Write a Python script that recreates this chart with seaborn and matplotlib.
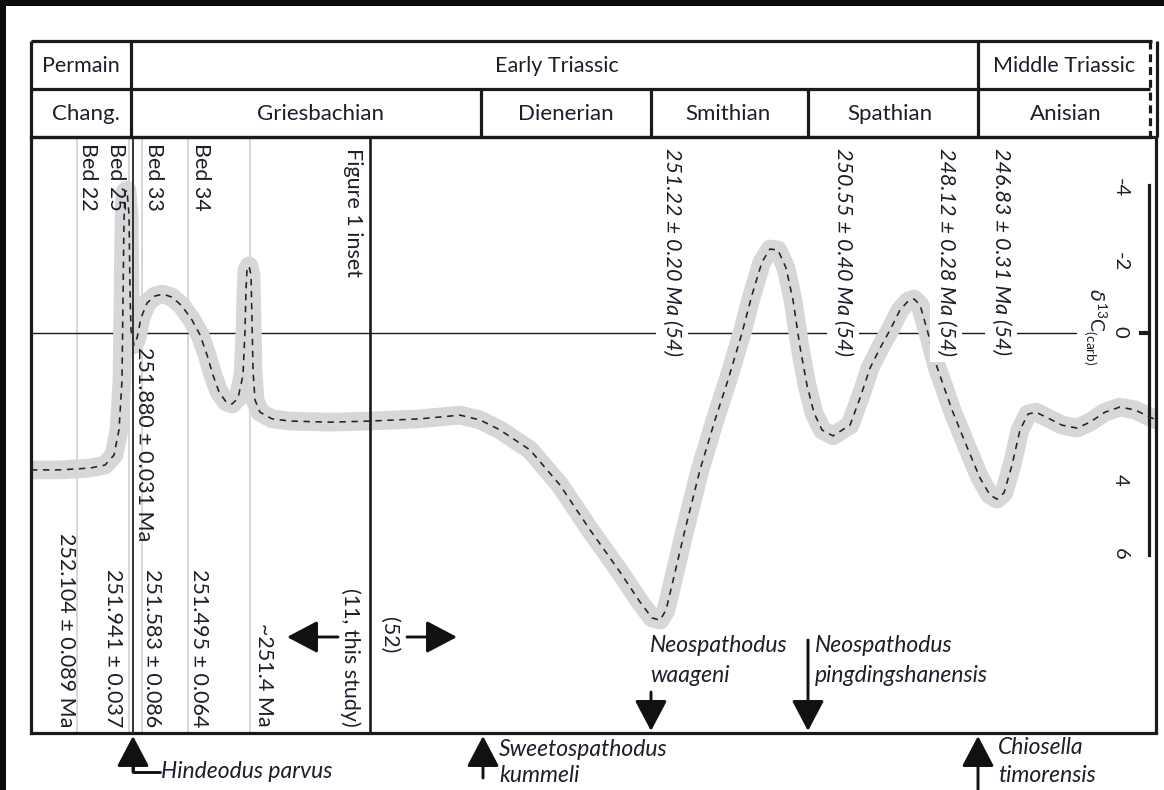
import numpy as np
import pandas as pd
import matplotlib
matplotlib.use("Agg")
import matplotlib.pyplot as plt
import seaborn as sns
from matplotlib import transforms
from matplotlib.patches import Rectangle, FancyArrowPatch

sns.set_theme(style="white")
plt.rcParams["font.family"] = ["Lato", "DejaVu Sans"]
plt.rcParams["mathtext.fontset"] = "custom"
plt.rcParams["mathtext.rm"] = "Lato"

# ---------------- data ----------------
# position along the section (chart x units) and delta13C(carb) values
curve_pos = [31, 60, 90, 105, 114, 119, 122, 123, 124, 125, 127, 129, 130, 131, 134, 137,
             141, 147, 155, 163, 172, 182, 192, 200, 207, 213, 219, 226, 232, 238, 243,
             245, 246, 247, 249, 251, 252, 253, 255, 260, 272, 290, 330, 370, 420, 460,
             480, 500, 530, 560, 590, 620, 640, 652, 660, 666, 672, 685, 700, 715, 728,
             742, 752, 762, 770, 778, 786, 793, 800, 807, 814, 822, 833, 850, 860, 870,
             880, 890, 900, 908, 914, 920, 928, 937, 952, 967, 980, 990, 997, 1004, 1012,
             1020, 1028, 1036, 1048, 1062, 1077, 1090, 1105, 1120, 1135, 1156]
curve_d13c = [3.70, 3.70, 3.65, 3.57, 3.30, 2.62, 1.27, -0.89, -3.05, -3.81, -3.86, -3.19,
              -1.16, -0.08, 0.32, 0.14, -0.41, -0.81, -1.00, -1.05, -0.97, -0.73, -0.35,
              0.05, 0.59, 1.14, 1.59, 1.86, 1.92, 1.76, 1.14, -0.08, -1.16, -1.70, -1.81,
              -1.57, -0.35, 1.00, 1.81, 2.14, 2.32, 2.38, 2.41, 2.38, 2.32, 2.22, 2.35,
              2.62, 3.16, 4.11, 5.32, 6.46, 7.27, 7.70, 7.76, 7.49, 6.81, 5.32, 3.70, 2.35,
              1.27, 0.00, -1.03, -1.92, -2.27, -2.24, -1.76, -0.89, 0.38, 1.41, 2.16, 2.62,
              2.78, 2.49, 1.76, 0.95, 0.41, -0.08, -0.62, -0.86, -0.92, -0.76, 0.00, 0.92,
              2.08, 3.08, 3.92, 4.38, 4.49, 4.32, 3.57, 2.62, 2.19, 2.14, 2.30, 2.49, 2.57,
              2.41, 2.14, 2.00, 2.08, 2.35]

periods = ["Permain", "Early Triassic", "Middle Triassic"]
period_edges = [31, 131, 978, 1150]
period_label_x = [81, 557, 1064]
stages = ["Chang.", "Griesbachian", "Dienerian", "Smithian", "Spathian", "Anisian"]
stage_edges = [31, 131, 481, 651, 808, 978, 1150]
stage_label_x = [86, 320, 566, 728, 890, 1066]

bed_lines = [77, 129, 142, 188, 250]           # thin grey marker lines
boundary_lines = [133, 370]                    # dark lines (PTB, inset limit)
top_labels = ["Bed 22", "Bed 25", "Bed 33", "Bed 34", "Figure 1 inset"]
top_label_x = [88, 116, 154, 201, 353]
bottom_labels = ["252.104 \u00b1 0.089 Ma", "251.941 \u00b1 0.037", "251.583 \u00b1 0.086",
                 "251.495 \u00b1 0.064", "~251.4 Ma", "(11, this study)"]
bottom_label_x = [66, 113, 152, 199, 264, 350]
ash_ages = ["251.22 \u00b1 0.20 Ma (54)", "250.55 \u00b1 0.40 Ma (54)",
            "248.12 \u00b1 0.28 Ma (54)", "246.83 \u00b1 0.31 Ma (54)"]
ash_x = [672, 843, 946, 1001]

d13c_ticks = [-4, -2, 0, 2, 4, 6]
d13c_ticklabels = ["-4", "-2", "0", "2", "4", "6"]

# ---------------- figure ----------------
W, H = 1164, 790
fig = plt.figure(figsize=(W / 100, H / 100), dpi=100, facecolor="#0d0b0e")
PX = transforms.Affine2D().scale(1.0 / W, -1.0 / H).translate(0, 1) + fig.transFigure
fig.add_artist(Rectangle((6, 6), W - 6, H - 6, transform=PX, facecolor="white",
                         edgecolor="none", zorder=0))

TXT = "#1d1d2b"
FS_ROT = 15.5
x0, x1, ytop, ybot = 31, 1156, 137, 733
ax = fig.add_axes([x0 / W, 1 - ybot / H, (x1 - x0) / W, (ybot - ytop) / H])
ax.set_facecolor("none")
ax.set_xlim(x0, x1)
y_zero, y_scale = 333, 37.0
ax.set_ylim((ybot - y_zero) / y_scale, (ytop - y_zero) / y_scale)

df = pd.DataFrame({"pos": curve_pos, "d13c": curve_d13c})
sns.lineplot(data=df, x="pos", y="d13c", sort=False, ax=ax, color="#d6d7d9", lw=13.5,
             solid_capstyle="round", solid_joinstyle="round", zorder=2)
sns.lineplot(data=df, x="pos", y="d13c", sort=False, ax=ax, color="#222222", lw=1.15,
             zorder=3)
ax.lines[-1].set_linestyle((0, (4, 3.5)))

for bx in bed_lines:
    ax.axvline(bx, color="#cdcdcd", lw=1.1, zorder=1)
ax.axvline(boundary_lines[0], color="#333333", lw=1.4, zorder=4)
ax.axvline(boundary_lines[1], color="#1a1a1a", lw=1.9, zorder=4)
ax.axhline(0, xmin=0, xmax=(1076 - x0) / (x1 - x0), color="#1a1a1a", lw=1.0, zorder=1)
ax.hlines(0, 1139, 1149, color="#1a1a1a", lw=3.0, zorder=4)

# frame
for s in ["top", "bottom", "left"]:
    ax.spines[s].set_visible(True)
    ax.spines[s].set_color("#1a1a1a")
    ax.spines[s].set_linewidth(2.3)
ax.axvline(x1, color="#1a1a1a", lw=2.3, clip_on=False)

# delta13C axis drawn on the right spine
ax.spines["right"].set_visible(True)
ax.spines["right"].set_position(("data", 1149))
ax.spines["right"].set_bounds(-4, 6)
ax.spines["right"].set_linewidth(2.3)
ax.spines["right"].set_color("#1a1a1a")
ax.yaxis.set_ticks_position("right")
ax.set_yticks(d13c_ticks)
ax.set_yticklabels(d13c_ticklabels)
ax.tick_params(axis="y", which="major", length=0, pad=-27, labelrotation=-90,
               labelsize=14.5, labelcolor=TXT)
ax.set_xticks([])
ax.set_xlabel("")
ax.set_ylabel("")
ax.text(1095, 327, r"$\delta^{13}$C$_{\rm (carb)}$", transform=PX, rotation=-90,
        ha="center", va="center", fontsize=14, color=TXT)

# ---------------- header ----------------
hx = fig.add_axes([x0 / W, 1 - 137 / H, (x1 - x0) / W, (137 - 41) / H])
hx.set_xlim(x0, x1)
hx.set_ylim(137, 41)
hx.axis("off")
lk = dict(color="#1a1a1a", lw=2.3, clip_on=False, solid_capstyle="butt")
hx.plot([31, 1152], [41, 41], **lk)
hx.plot([31, 1150], [89, 89], **lk)
hx.plot([31, 1150], [137, 137], **lk)
hx.plot([31, 31], [41, 137], **lk)
hx.plot([1157, 1157], [41, 137], **lk)
hx.plot([1150, 1150], [41, 137], color="#1a1a1a", lw=2.3, ls=(0, (2.5, 1.5)), clip_on=False)
for e in period_edges[1:-1]:
    hx.plot([e, e], [41, 89], **lk)
for e in stage_edges[1:-1]:
    hx.plot([e, e], [89, 137], **lk)
for name, cx in zip(periods, period_label_x):
    hx.text(cx, 66, name, ha="center", va="center", fontsize=15.5, color=TXT)
for name, cx in zip(stages, stage_label_x):
    hx.text(cx, 114, name, ha="center", va="center", fontsize=16, color=TXT)

# ---------------- annotations ----------------
for lab, lx in zip(top_labels, top_label_x):
    fig.text(lx, 143 if lab != "Figure 1 inset" else 148, lab, transform=PX, rotation=-90,
             ha="center", va="top", fontsize=FS_ROT, color=TXT)
fig.text(144, 347, "251.880 \u00b1 0.031 Ma", transform=PX, rotation=-90, ha="center",
         va="top", fontsize=FS_ROT, color=TXT, zorder=5)
for lab, lx in zip(bottom_labels, bottom_label_x):
    fig.text(lx, 727, lab, transform=PX, rotation=-90, ha="center", va="bottom",
             fontsize=FS_ROT, color=TXT)
fig.text(389, 617, "(52)", transform=PX, rotation=-90, ha="center", va="top",
         fontsize=FS_ROT, color=TXT)
for lab, lx in zip(ash_ages, ash_x):
    fig.text(lx, 148, lab, transform=PX, rotation=-90, ha="center", va="top",
             fontsize=FS_ROT, style="italic", color=TXT,
             bbox=dict(facecolor="white", edgecolor="none", pad=4))

ap = dict(arrowstyle="-|>,head_length=0.95,head_width=0.5", color="#111111", lw=2.1,
          shrinkA=0, shrinkB=0, mutation_scale=20)
def arrow(xa, ya, xb, yb):
    fig.add_artist(FancyArrowPatch((xa, ya), (xb, yb), transform=PX, **ap))
arrow(338, 637, 287, 637)
arrow(407, 637, 457, 637)
arrow(133, 772, 133, 736)
fig.add_artist(plt.Line2D([133, 133, 160], [760, 772, 772], transform=PX, color="#111111",
                          lw=2.1))
arrow(483, 778, 483, 736)
arrow(651, 692, 651, 731)
arrow(808, 640, 808, 731)
arrow(978, 790, 978, 736)

it = dict(transform=PX, style="italic", fontsize=16.5, color=TXT, va="center", ha="left")
fig.text(161, 771, "Hindeodus parvus", **it)
fig.text(499, 749, "Sweetospathodus", **it)
fig.text(499, 776, "kummeli", **it)
fig.text(650, 646, "Neospathodus", **it)
fig.text(650, 676, "waageni", **it)
fig.text(815, 646, "Neospathodus", **it)
fig.text(815, 676, "pingdingshanensis", **it)
fig.text(998, 748, "Chiosella", **it)
fig.text(998, 776, "timorensis", **it)

fig.savefig("out.png", dpi=100, facecolor=fig.get_facecolor())
